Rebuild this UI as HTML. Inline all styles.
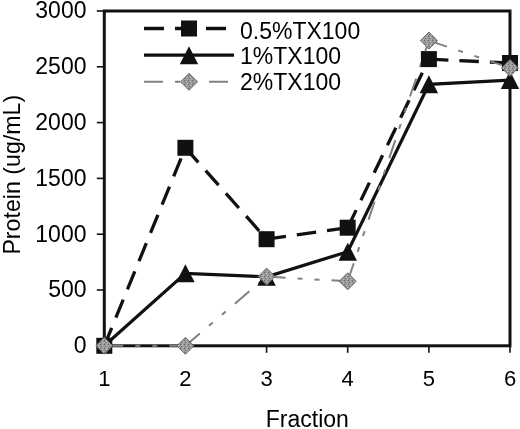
<!DOCTYPE html>
<html><head><meta charset="utf-8"><title>Protein by fraction</title>
<style>
html,body{margin:0;padding:0;background:#fff;}
body{width:520px;height:429px;overflow:hidden;}
svg{display:block;}
text{font-family:"Liberation Sans",Arial,sans-serif;fill:#000;}
</style></head><body>
<svg width="520" height="429" viewBox="0 0 520 429">
<defs>
<pattern id="spk" width="4" height="4" patternUnits="userSpaceOnUse">
<rect width="4" height="4" fill="#999"/>
<rect x="0" y="0" width="1" height="1" fill="#666"/>
<rect x="2" y="1" width="1" height="1" fill="#c4c4c4"/>
<rect x="1" y="2" width="1" height="1" fill="#707070"/>
<rect x="3" y="3" width="1" height="1" fill="#bbb"/>
</pattern>
</defs>

<rect x="104.3" y="11.0" width="405.7" height="334.8" fill="none" stroke="#111" stroke-width="3"/>
<line x1="96.8" y1="345.8" x2="104.3" y2="345.8" stroke="#111" stroke-width="1.6"/>
<text x="86.5" y="353.1" font-size="23" text-anchor="end">0</text>
<line x1="96.8" y1="290.0" x2="104.3" y2="290.0" stroke="#111" stroke-width="1.6"/>
<text x="86.5" y="297.3" font-size="23" text-anchor="end">500</text>
<line x1="96.8" y1="234.2" x2="104.3" y2="234.2" stroke="#111" stroke-width="1.6"/>
<text x="86.5" y="241.5" font-size="23" text-anchor="end">1000</text>
<line x1="96.8" y1="178.4" x2="104.3" y2="178.4" stroke="#111" stroke-width="1.6"/>
<text x="86.5" y="185.7" font-size="23" text-anchor="end">1500</text>
<line x1="96.8" y1="122.6" x2="104.3" y2="122.6" stroke="#111" stroke-width="1.6"/>
<text x="86.5" y="129.9" font-size="23" text-anchor="end">2000</text>
<line x1="96.8" y1="66.8" x2="104.3" y2="66.8" stroke="#111" stroke-width="1.6"/>
<text x="86.5" y="74.1" font-size="23" text-anchor="end">2500</text>
<line x1="96.8" y1="11.0" x2="104.3" y2="11.0" stroke="#111" stroke-width="1.6"/>
<text x="86.5" y="18.3" font-size="23" text-anchor="end">3000</text>
<line x1="104.3" y1="345.8" x2="104.3" y2="352.8" stroke="#111" stroke-width="1.6"/>
<text x="104.3" y="386.4" font-size="22" text-anchor="middle">1</text>
<line x1="185.4" y1="345.8" x2="185.4" y2="352.8" stroke="#111" stroke-width="1.6"/>
<text x="185.4" y="386.4" font-size="22" text-anchor="middle">2</text>
<line x1="266.6" y1="345.8" x2="266.6" y2="352.8" stroke="#111" stroke-width="1.6"/>
<text x="266.6" y="386.4" font-size="22" text-anchor="middle">3</text>
<line x1="347.7" y1="345.8" x2="347.7" y2="352.8" stroke="#111" stroke-width="1.6"/>
<text x="347.7" y="386.4" font-size="22" text-anchor="middle">4</text>
<line x1="428.9" y1="345.8" x2="428.9" y2="352.8" stroke="#111" stroke-width="1.6"/>
<text x="428.9" y="386.4" font-size="22" text-anchor="middle">5</text>
<line x1="510.0" y1="345.8" x2="510.0" y2="352.8" stroke="#111" stroke-width="1.6"/>
<text x="510.0" y="386.4" font-size="22" text-anchor="middle">6</text>
<text x="307.3" y="426.5" font-size="23" text-anchor="middle">Fraction</text>
<text transform="translate(19.6,174.7) rotate(-90)" font-size="23.2" text-anchor="middle">Protein (ug/mL)</text>
<line x1="104.3" y1="345.8" x2="185.4" y2="147.8" stroke="#111" stroke-width="3.3" stroke-dasharray="19.5 11"/>
<line x1="185.4" y1="147.8" x2="266.6" y2="239.2" stroke="#111" stroke-width="3.3" stroke-dasharray="19.5 11"/>
<line x1="266.6" y1="239.2" x2="347.7" y2="227.7" stroke="#111" stroke-width="3.3" stroke-dasharray="19.5 11"/>
<line x1="347.7" y1="227.7" x2="428.9" y2="59.1" stroke="#111" stroke-width="3.3" stroke-dasharray="19.5 11"/>
<line x1="428.9" y1="59.1" x2="510.0" y2="63.0" stroke="#111" stroke-width="3.3" stroke-dasharray="19.5 11"/>
<polyline points="104.3,345.8 185.4,273.3 266.6,276.8 347.7,251.7 428.9,84.3 510.0,80.1" fill="none" stroke="#111" stroke-width="3.2"/>
<line x1="104.3" y1="345.8" x2="185.4" y2="345.8" stroke="#808080" stroke-width="2" stroke-dasharray="19 12 5 12 5 12"/>
<line x1="185.4" y1="345.8" x2="266.6" y2="276.6" stroke="#808080" stroke-width="2" stroke-dasharray="19 12 5 12 5 12"/>
<line x1="266.6" y1="276.6" x2="347.7" y2="281.3" stroke="#808080" stroke-width="2" stroke-dasharray="19 12 5 12 5 12"/>
<line x1="347.7" y1="281.3" x2="428.9" y2="40.6" stroke="#808080" stroke-width="2" stroke-dasharray="19 12 5 12 5 12"/>
<line x1="428.9" y1="40.6" x2="510.0" y2="67.9" stroke="#808080" stroke-width="2" stroke-dasharray="19 12 5 12 5 12"/>
<rect x="96.3" y="337.8" width="16" height="16" fill="#111"/>
<rect x="177.4" y="139.8" width="16" height="16" fill="#111"/>
<rect x="258.6" y="231.2" width="16" height="16" fill="#111"/>
<rect x="339.7" y="219.7" width="16" height="16" fill="#111"/>
<rect x="420.9" y="51.1" width="16" height="16" fill="#111"/>
<rect x="502.0" y="55.0" width="16" height="16" fill="#111"/>
<polygon points="185.4,264.3 194.7,282.3 176.2,282.3" fill="#111"/>
<polygon points="266.6,267.8 275.8,285.8 257.3,285.8" fill="#111"/>
<polygon points="347.7,242.7 357.0,260.7 338.5,260.7" fill="#111"/>
<polygon points="428.9,75.3 438.1,93.3 419.6,93.3" fill="#111"/>
<polygon points="510.0,71.1 519.2,89.1 500.8,89.1" fill="#111"/>
<polygon points="104.3,337.3 112.8,345.8 104.3,354.3 95.8,345.8" fill="url(#spk)" stroke="#606060" stroke-width="0.9"/>
<polygon points="185.4,337.3 193.9,345.8 185.4,354.3 176.9,345.8" fill="url(#spk)" stroke="#606060" stroke-width="0.9"/>
<polygon points="266.6,268.1 275.1,276.6 266.6,285.1 258.1,276.6" fill="url(#spk)" stroke="#606060" stroke-width="0.9"/>
<polygon points="347.7,272.8 356.2,281.3 347.7,289.8 339.2,281.3" fill="url(#spk)" stroke="#606060" stroke-width="0.9"/>
<polygon points="428.9,32.1 437.4,40.6 428.9,49.1 420.4,40.6" fill="url(#spk)" stroke="#606060" stroke-width="0.9"/>
<polygon points="510.0,59.4 518.5,67.9 510.0,76.4 501.5,67.9" fill="url(#spk)" stroke="#606060" stroke-width="0.9"/>
<line x1="144" y1="28.5" x2="234" y2="28.5" stroke="#111" stroke-width="3.3" stroke-dasharray="20 11"/>
<rect x="181.0" y="20.5" width="16" height="16" fill="#111"/>
<line x1="144" y1="55.2" x2="234" y2="55.2" stroke="#111" stroke-width="3.2"/>
<polygon points="189.0,46.2 198.2,64.2 179.8,64.2" fill="#111"/>
<line x1="144" y1="81.8" x2="234" y2="81.8" stroke="#808080" stroke-width="2" stroke-dasharray="19 12 5 12 5 12"/>
<polygon points="189.0,73.3 197.5,81.8 189.0,90.3 180.5,81.8" fill="url(#spk)" stroke="#606060" stroke-width="0.9"/>
<text x="240" y="38.9" font-size="23">0.5%TX100</text>
<text x="240" y="64.4" font-size="23">1%TX100</text>
<text x="240" y="90.4" font-size="23">2%TX100</text>
</svg>
</body></html>
